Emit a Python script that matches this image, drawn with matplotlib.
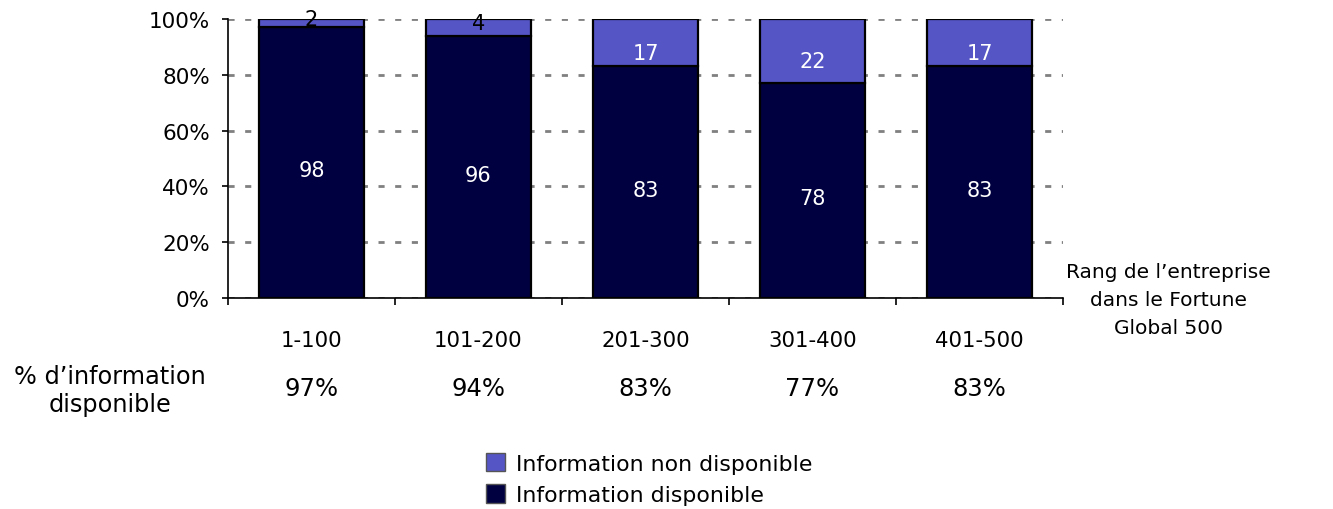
import matplotlib
matplotlib.use("Agg")
import matplotlib.pyplot as plt
from matplotlib.patches import Patch
import numpy as np

categories = ["1-100", "101-200", "201-300", "301-400", "401-500"]
dispo_pct = [97, 94, 83, 77, 83]          # bar heights (%)
dispo_labels = ["98", "96", "83", "78", "83"]
non_dispo_labels = ["2", "4", "17", "22", "17"]
bottom_row = ["97%", "94%", "83%", "77%", "83%"]
yticks = [0, 20, 40, 60, 80, 100]

dark = "#000040"
light = "#5555C5"

plt.rcParams['font.family'] = ['DejaVu Sans']
fig = plt.figure(figsize=(13.33, 5.10), dpi=100)
ax = fig.add_axes([228/1333, 1-299/510, (1063-228)/1333, (299-20)/510])

x = np.arange(len(categories))
dispo = np.array(dispo_pct, dtype=float)
non = 100 - dispo
w = 0.63
ax.bar(x, dispo, w, color=dark, edgecolor="black", linewidth=1.6, zorder=3)
ax.bar(x, non, w, bottom=dispo, color=light, edgecolor="black", linewidth=1.6, zorder=3)

for i in range(len(x)):
    ax.text(x[i], dispo[i]/2 - 2.8, dispo_labels[i], ha="center", va="center",
            color="white", fontsize=15, zorder=4)
    small = non[i] < 8
    ytop = dispo[i] + non[i]/2 + (1.5 if small else -3.7)
    ax.text(x[i], ytop, non_dispo_labels[i], ha="center", va="center",
            color="black" if small else "white", fontsize=15, zorder=4)

ax.set_xlim(-0.5, len(x)-0.5)
ax.set_ylim(0, 100)
ax.set_yticks(yticks)
ax.set_yticklabels([f"{v}%" for v in yticks], fontsize=15.5)
ax.yaxis.grid(True, linestyle=(0, (2.2, 3.8)), color="#808080", linewidth=2, zorder=0)
ax.set_axisbelow(True)
ax.set_xticks(np.arange(-0.5, len(x), 1.0))
ax.set_xticklabels([])
ax.tick_params(axis="x", direction="out", length=5, width=1.2)
ax.tick_params(axis="y", direction="out", length=4.3, width=1.2, pad=8.6)
for s in ["top", "right"]:
    ax.spines[s].set_visible(False)
ax.spines["left"].set_linewidth(1.2)
ax.spines["bottom"].set_linewidth(1.2)

trans = ax.get_xaxis_transform()
for i, c in enumerate(categories):
    ax.text(x[i], 1-(341-20)/279, c, transform=trans, ha="center", va="center", fontsize=15.3)
    ax.text(x[i], 1-(389-20)/279, bottom_row[i], transform=trans, ha="center", va="center", fontsize=17.5)

fig.text(110/1333, 1-391/510, "% d\u2019information\ndisponible", ha="center", va="center",
         fontsize=17.3, linespacing=1.2)
fig.text(1168/1333, 1-301/510, "Rang de l\u2019entreprise\ndans le Fortune\nGlobal 500",
         ha="center", va="center", fontsize=14.5, linespacing=1.6)

handles = [Patch(facecolor=light, edgecolor="#555555", linewidth=1),
           Patch(facecolor=dark, edgecolor="#555555", linewidth=1)]
leg = fig.legend(handles, ["Information non disponible", "Information disponible"],
                 loc="center left", bbox_to_anchor=(468/1333, 1-480/510), frameon=False,
                 fontsize=15.8, handlelength=0.9, handleheight=0.9, handletextpad=0.5,
                 labelspacing=0.5, borderpad=0.3)

fig.savefig("out.png", dpi=100)
